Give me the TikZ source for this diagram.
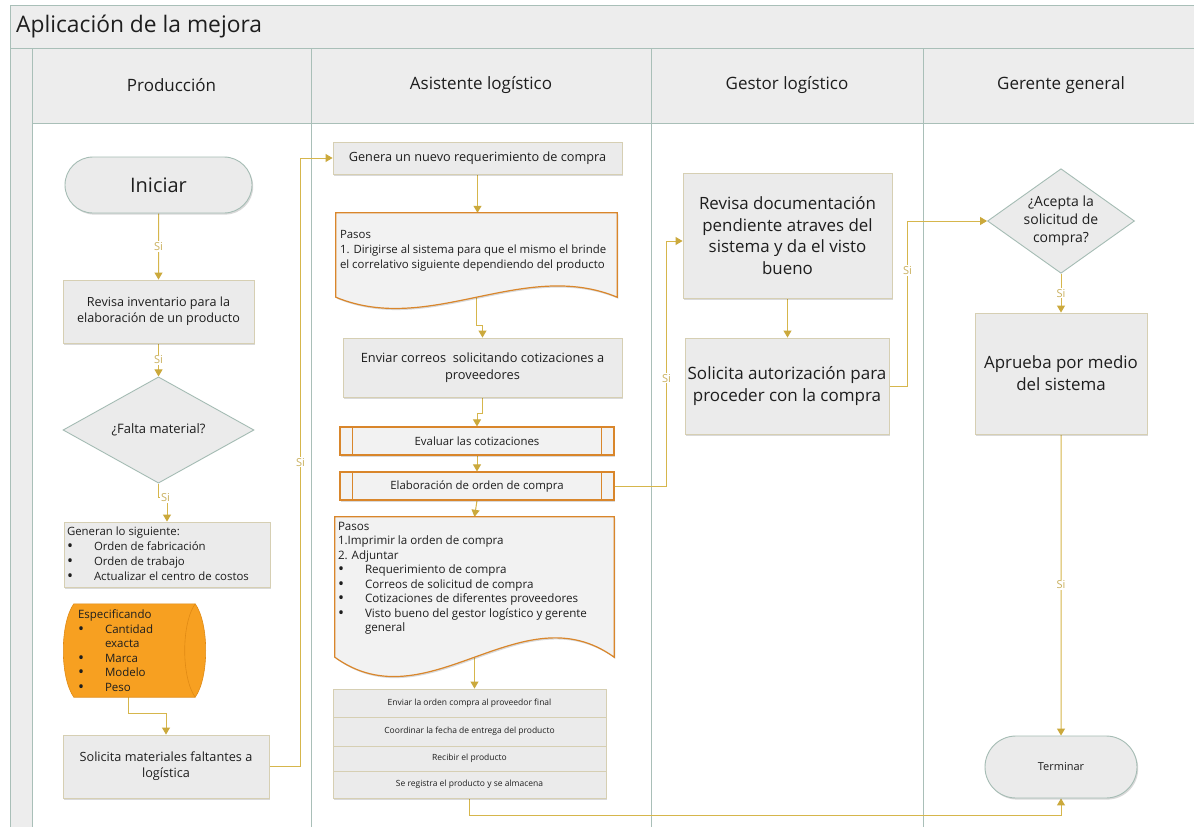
\documentclass[tikz,border=0pt]{standalone}
\usepackage{fontspec}
\setmainfont{Open Sans}
\usetikzlibrary{shapes.geometric,shapes.misc,arrows.meta,shadows,calc}

\definecolor{laneline}{HTML}{A9BFB8}
\definecolor{hdrfill}{HTML}{EDEDED}
\definecolor{boxfill}{HTML}{EBEBEB}
\definecolor{boxline}{HTML}{D6CFB3}
\definecolor{flowline}{HTML}{D6B64C}
\definecolor{flowtip}{HTML}{CBA93C}
\definecolor{flowtxt}{HTML}{C9AF5C}
\definecolor{docline}{HTML}{D9862B}
\definecolor{docfill}{HTML}{F2F2F2}
\definecolor{storefill}{HTML}{F7A021}
\definecolor{storeline}{HTML}{E08A14}
\definecolor{termline}{HTML}{A5BCB4}
\definecolor{ink}{HTML}{1E1E1E}

\newcommand{\fsz}[2]{\fontsize{#1pt}{#2pt}\selectfont}
\newcommand{\bul}[1][27pt]{\makebox[#1][l]{\raisebox{-1pt}{\fontsize{16}{16}\selectfont\textbullet}}}

\pgfdeclarelayer{lanes}
\pgfdeclarelayer{edges}
\pgfdeclarelayer{shapes}
\pgfsetlayers{lanes,edges,shapes,main}

\tikzset{
  softshadow/.style={drop shadow={shadow xshift=1.2pt,shadow yshift=-1.6pt,opacity=0.15,fill=black}},
  box/.style={rectangle, draw=boxline, fill=boxfill, line width=0.9pt, align=center, text=ink, inner sep=2pt, softshadow},
  term/.style={rounded rectangle, draw=termline, fill=boxfill, line width=0.9pt, text=ink, inner sep=2pt, softshadow},
  decision/.style={diamond, draw=termline, fill=boxfill, line width=0.9pt, align=center, text=ink, inner sep=0pt},
  procbox/.style={rectangle, draw=docline, fill=docfill, line width=1.2pt, text=ink, softshadow, minimum width=274pt, minimum height=28pt, font=\fsz{11.4}{14}},
  docshape/.style={draw=docline, fill=docfill, line width=1.2pt, softshadow},
  stepbox/.style={rectangle, draw=boxline, fill=boxfill, line width=0.9pt, text=ink, minimum width=273pt, font=\fsz{8.5}{10}, softshadow},
  flow/.style={draw=flowline, line width=1pt, -{Triangle[width=8pt,length=7pt,color=flowtip]}},
  lbl/.style={fill=white, text=flowtxt, inner sep=1pt, font=\fsz{11}{13}},
  lane/.style={draw=laneline, line width=1pt},
  hdr/.style={font=\fsz{17}{20}, text=ink},
}

\begin{document}
\begin{tikzpicture}[x=1pt,y=-1pt]
\useasboundingbox (0,0) rectangle (1194,827);
\clip (0,0) rectangle (1194,827);

% swimlane frame
\begin{pgfonlayer}{lanes}
\fill[white] (0,0) rectangle (1194,827);
\fill[hdrfill] (10,5) rectangle (1200,48);
\fill[hdrfill] (10,48) rectangle (32,830);
\fill[hdrfill] (32,48) rectangle (1200,123);
\draw[lane] (1200,5) -- (10,5) -- (10,830);
\draw[lane] (10,48) -- (1200,48);
\draw[lane] (32,123) -- (1200,123);
\foreach \x in {32,311,651,923} \draw[lane] (\x,48) -- (\x,830);
\end{pgfonlayer}

\node[anchor=west, font=\fsz{22.8}{26}, text=ink, inner sep=0pt] (title) at (16,27) {Aplicación de la mejora};
\node[hdr] (h1) at (171.5,85) {Producción};
\node[hdr] (h2) at (481,85) {Asistente logístico};
\node[hdr] (h3) at (787,85) {Gestor logístico};
\node[hdr] (h4) at (1061,85) {Gerente general};

% Producción
\node[term, minimum width=191pt, minimum height=56pt, font=\fsz{20}{24}] (ini) at (158.5,185) {Iniciar};
\node[box, minimum width=191pt, minimum height=63pt, font=\fsz{12.6}{16}] (rinv) at (158.5,311.5) {Revisa inventario para la\\elaboración de un producto};
\node[decision, minimum width=191pt, minimum height=88pt, font=\fsz{13}{16}] (falta) at (158.5,430) {¿Falta material?};
\node[box, inner sep=0pt] (gen) at (167,554.5) {\begin{minipage}[c][65pt][t]{206pt}\fsz{11.4}{15}\leftskip=3pt\vspace*{5pt}Generan lo siguiente:\\
\bul Orden de fabricación\\
\bul Orden de trabajo\\
\bul Actualizar el centro de costos\end{minipage}};
\node[inner sep=0pt, text=ink] (esp) at (134.5,650.5) {\begin{minipage}[c][93pt][t]{143pt}\fsz{11.5}{14.5}\leftskip=15pt\vspace*{6pt}Especificando\\
\bul[27pt]Cantidad\\
\hspace*{27pt}exacta\\
\bul[27pt]Marca\\
\bul[27pt]Modelo\\
\bul[27pt]Peso\end{minipage}};
\node[box, minimum width=206pt, minimum height=63pt, font=\fsz{12.7}{16}] (sol) at (166,766.5) {Solicita materiales faltantes a\\logística};

% Asistente logístico
\node[box, minimum width=289pt, minimum height=32pt, font=\fsz{12.7}{16}] (greq) at (477.5,158) {Genera un nuevo requerimiento de compra};
\node[inner sep=0pt, text=ink] (doc1) at (476.5,255) {\begin{minipage}[c][84pt][t]{281pt}\fsz{11.4}{15}\leftskip=4pt\vspace*{17pt}Pasos\\
1. Dirigirse al sistema para que el mismo el brinde\\
el correlativo siguiente dependiendo del producto\end{minipage}};
\node[box, minimum width=279pt, minimum height=59pt, font=\fsz{12.8}{16.5}] (env) at (482.5,367.5) {Enviar correos\ \ solicitando cotizaciones a\\proveedores};
\node[procbox] (eva) at (477,441) {Evaluar las cotizaciones};
\node[procbox] (ela) at (477,486) {Elaboración de orden de compra};
\node[inner sep=0pt, text=ink] (doc2) at (474.5,587) {\begin{minipage}[c][140pt][t]{279pt}\fsz{11.6}{14.5}\leftskip=3pt\vspace*{5pt}Pasos\\
1.Imprimir la orden de compra\\
2. Adjuntar\\
\bul Requerimiento de compra\\
\bul Correos de solicitud de compra\\
\bul Cotizaciones de diferentes proveedores\\
\bul Visto bueno del gestor logístico y gerente\\
\hspace*{27pt}general\end{minipage}};
\node[stepbox, minimum height=28pt] (s1) at (469.5,703) {Enviar la orden compra al proveedor final};
\node[stepbox, minimum height=29pt] (s2) at (469.5,731.5) {Coordinar la fecha de entrega del producto};
\node[stepbox, minimum height=25pt] (s3) at (469.5,758.5) {Recibir el producto};
\node[stepbox, minimum height=27pt] (s4) at (469.5,784.5) {Se registra el producto y se almacena};

% Gestor logístico
\node[box, minimum width=209pt, minimum height=125pt, font=\fsz{16.9}{21.5}] (rdoc) at (787.5,235.5) {Revisa documentación\\pendiente atraves del\\sistema y da el visto\\bueno};
\node[box, minimum width=204pt, minimum height=96pt, font=\fsz{17}{22}] (saut) at (787,386) {Solicita autorización para\\proceder con la compra};

% Gerente general
\node[decision, minimum width=147pt, minimum height=95pt, inner sep=-5pt, font=\fsz{14}{18}] (dia2) at (1061,221) {¿Acepta la\\solicitud de\\compra?};
\node[box, minimum width=172pt, minimum height=121pt, font=\fsz{16.9}{22}] (apr) at (1061,373.5) {Aprueba por medio\\del sistema};
\node[term, minimum width=156pt, minimum height=62pt, font=\fsz{11}{14}] (ter) at (1061,767) {Terminar};

% predefined-process side bars
\foreach \n in {eva,ela} {
  \draw[docline, line width=1.2pt] ([xshift=13pt]\n.north west) -- ([xshift=13pt]\n.south west);
  \draw[docline, line width=1.2pt] ([xshift=-13pt]\n.north east) -- ([xshift=-13pt]\n.south east);
}

% document and stored-data outlines
\begin{pgfonlayer}{shapes}
\draw[docshape] (doc1.north west) -- (doc1.north east) -- (doc1.south east)
  .. controls +(-94,-39) and +(94,39) .. (doc1.south west) -- cycle;
\draw[docshape] (doc2.north west) -- (doc2.north east) -- (doc2.south east)
  .. controls +(-93,-67) and +(93,67) .. (doc2.south west) -- cycle;
\coordinate (ea) at ([xshift=11pt]esp.north west);
\coordinate (eb) at ([xshift=-11pt]esp.north east);
\coordinate (ec) at ([xshift=-11pt]esp.south east);
\coordinate (ed) at ([xshift=11pt]esp.south west);
\draw[fill=storefill, draw=storeline, line width=0.6pt] (ea) -- (eb)
  .. controls +(14,20) and +(14,-20) .. (ec) -- (ed)
  .. controls +(-14,-20) and +(-14,20) .. (ea) -- cycle;
\draw[storeline, line width=0.6pt] (eb) .. controls +(-14,20) and +(-14,-20) .. (ec);
\end{pgfonlayer}

% connectors
\begin{pgfonlayer}{edges}
\draw[flow] (ini) -- node[lbl]{Si} (rinv);
\draw[flow] (rinv) -- node[lbl]{Si} (falta);
\draw[flow] (falta.south) -- ++(0,14) coordinate (j1) -| (gen.north);
\node[lbl] (j1l) at ([xshift=7pt]j1) {Si};
\draw[flow] ([xshift=-6.5pt]esp.south) -- ++(0,16) -| (sol.north);
\draw[flow] (sol.east) -- ++(31,0) |- node[lbl,pos=0.25]{Si} (greq.west);
\draw[flow] (greq.south) -- (greq.south |- doc1.north);
\draw[flow] (doc1.south) -- ++(0,28) -| (env.north);
\draw[flow] (env.south) -- ++(0,16) -| (eva.north);
\draw[flow] (eva) -- (ela);
\draw[flow] (ela.south) -- (doc2.north);
\draw[flow] (doc2.south) -- (doc2.south |- s1.north);
\draw[flow] (s4.south) -- ++(0,17) -| (ter.south);
\draw[flow] (ela.east) -- ++(52,0) |- node[lbl,pos=0.22]{Si} ([yshift=-5.5pt]rdoc.west);
\draw[flow] (rdoc.south) -- (rdoc.south |- saut.north);
\draw[flow] (saut.east) -- ++(18,0) |- node[lbl,pos=0.35]{Si} (dia2.west);
\draw[flow] (dia2) -- node[lbl]{Si} (apr);
\draw[flow] (apr) -- node[lbl]{Si} (ter);
\end{pgfonlayer}
\end{tikzpicture}
\end{document}
